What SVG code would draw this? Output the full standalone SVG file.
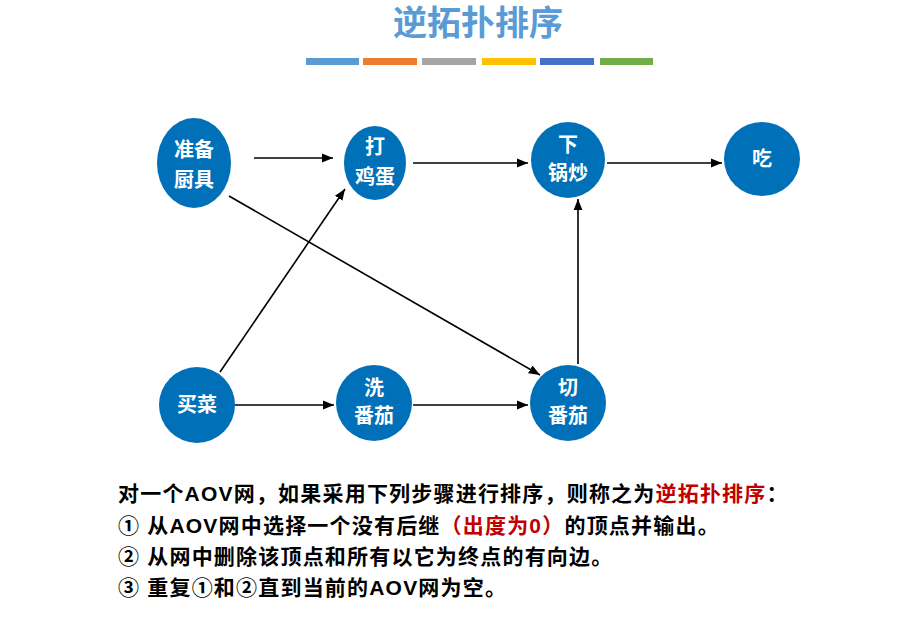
<svg xmlns="http://www.w3.org/2000/svg" width="898" height="624" viewBox="0 0 898 624">
<style>
.n{fill:#0070b8}
.t{fill:#fff;font:bold 20px "Liberation Sans","Noto Sans CJK SC",sans-serif;text-anchor:middle}
.e{stroke:#000;stroke-width:1.6;fill:none;marker-end:url(#a)}
.b{font:bold 21px "Liberation Sans","Noto Sans CJK SC",sans-serif;fill:#000;letter-spacing:1.2px}
.r{fill:#c00000}
</style>
<defs><marker id="a" viewBox="0 0 10 10" refX="10" refY="5" markerWidth="7" markerHeight="7" orient="auto"><path d="M0,1L10,5L0,9z" fill="#000"/></marker></defs>
<rect width="898" height="624" fill="#fff"/>
<text x="478" y="35" text-anchor="middle" style="font:bold 34px 'Liberation Sans','Noto Sans CJK SC',sans-serif;fill:#5b9bd5">逆拓扑排序</text>
<g>
<rect x="306" y="58" width="53" height="7" fill="#5b9bd5"/>
<rect x="363" y="58" width="54" height="7" fill="#ed7d31"/>
<rect x="422" y="58" width="54" height="7" fill="#a5a5a5"/>
<rect x="482" y="58" width="54" height="7" fill="#ffc000"/>
<rect x="540" y="58" width="54" height="7" fill="#4472c4"/>
<rect x="600" y="58" width="53" height="7" fill="#70ad47"/>
</g>
<g id="edges">
<line class="e" x1="254" y1="158" x2="333" y2="158"/>
<line class="e" x1="413" y1="163" x2="528" y2="163"/>
<line class="e" x1="607" y1="163" x2="722" y2="163"/>
<line class="e" x1="229" y1="196" x2="540" y2="375"/>
<line class="e" x1="220" y1="372" x2="345" y2="189"/>
<line class="e" x1="235" y1="405" x2="334" y2="405"/>
<line class="e" x1="413" y1="405" x2="528" y2="405"/>
<line class="e" x1="578" y1="364" x2="578" y2="199"/>
</g>
<g id="n1"><ellipse class="n" cx="194" cy="163" rx="37" ry="45"/><text class="t" x="194" y="157">准备</text><text class="t" x="194" y="187">厨具</text></g>
<g id="n2"><ellipse class="n" cx="375" cy="163" rx="31" ry="37"/><text class="t" x="375" y="154">打</text><text class="t" x="375" y="184">鸡蛋</text></g>
<g id="n3"><ellipse class="n" cx="568" cy="160" rx="37" ry="38"/><text class="t" x="568" y="152">下</text><text class="t" x="568" y="180">锅炒</text></g>
<g id="n4"><ellipse class="n" cx="762" cy="159" rx="38" ry="37"/><text class="t" x="762" y="166">吃</text></g>
<g id="n5"><circle class="n" cx="197" cy="405" r="38"/><text class="t" x="197" y="412">买菜</text></g>
<g id="n6"><circle class="n" cx="374" cy="403" r="38"/><text class="t" x="374" y="395">洗</text><text class="t" x="374" y="423">番茄</text></g>
<g id="n7"><circle class="n" cx="568" cy="403" r="38"/><text class="t" x="568" y="395">切</text><text class="t" x="568" y="423">番茄</text></g>
<text class="b" x="118" y="501">对一个AOV网，如果采用下列步骤进行排序，则称之为<tspan class="r">逆拓扑排序</tspan>：</text>
<text class="b" x="118" y="533">① 从AOV网中选择一个没有后继<tspan class="r">（出度为0）</tspan>的顶点并输出。</text>
<text class="b" x="118" y="564">② 从网中删除该顶点和所有以它为终点的有向边。</text>
<text class="b" x="118" y="595">③ 重复①和②直到当前的AOV网为空。</text>
</svg>
